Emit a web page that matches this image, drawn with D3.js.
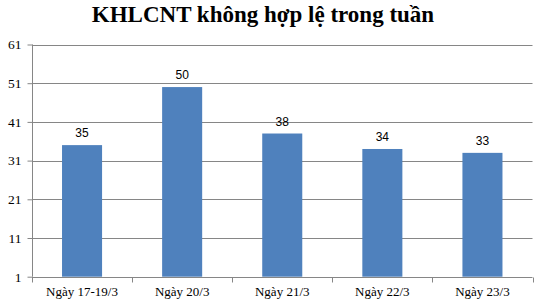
<!DOCTYPE html>
<html><head><meta charset="utf-8">
<script src="https://cdn.jsdelivr.net/npm/d3@7"></script>
<style>body{margin:0;background:#fff}svg{display:block}</style>
</head><body>
<svg id="c" width="542" height="306"></svg>
<script>
const title = "KHLCNT không hợp lệ trong tuần";
const categories = ["Ngày 17-19/3", "Ngày 20/3", "Ngày 21/3", "Ngày 22/3", "Ngày 23/3"];
const values = [35, 50, 38, 34, 33];
const yTicks = [1, 11, 21, 31, 41, 51, 61];

(function () {
const svg = d3.select("#c");
const pLeft = 32, pRight = 532.5, pTop = 44.5, pBottom = 276.7;
const x = d3.scaleBand().domain(categories).range([pLeft, pRight]).paddingInner(0.6).paddingOuter(0.3);
const y = d3.scaleLinear().domain([1, 61]).range([pBottom, pTop]);

svg.append("text").attr("x", 263).attr("y", 22).attr("text-anchor", "middle")
  .attr("font-family", "'Liberation Serif','Times New Roman',serif").attr("font-weight", "bold")
  .attr("font-size", 23).attr("fill", "#000").text(title);

// gridlines
svg.append("g").selectAll("line").data(yTicks.filter(d => d !== 1)).join("line")
  .attr("x1", pLeft).attr("x2", pRight).attr("y1", d => Math.round(y(d)) + 0.5).attr("y2", d => Math.round(y(d)) + 0.5)
  .attr("stroke", "#868686").attr("stroke-width", 1);

// bars
svg.append("g").selectAll("rect").data(values).join("rect")
  .attr("x", (d, i) => x(categories[i])).attr("width", x.bandwidth())
  .attr("y", d => y(d)).attr("height", d => y(1) - y(d)).attr("fill", "#4F81BD");

// value labels
svg.append("g").selectAll("text").data(values).join("text")
  .attr("x", (d, i) => x(categories[i]) + x.bandwidth() / 2).attr("y", d => y(d) - 8)
  .attr("text-anchor", "middle").attr("font-family", "'Liberation Sans',Arial,sans-serif")
  .attr("font-size", 12).attr("fill", "#000").text(d => d);

// y axis
const yAxis = d3.axisLeft(y).tickValues(yTicks).tickSize(5).tickPadding(6).tickFormat(d3.format("d"));
const gy = svg.append("g").attr("transform", `translate(${pLeft + 0.5},0)`).call(yAxis);
gy.select(".domain").attr("stroke", "#868686").attr("d", `M0,${pTop}V${pBottom}`);
gy.selectAll(".tick line").attr("stroke", "#868686");
gy.selectAll(".tick text").attr("font-family", "'Liberation Serif','Times New Roman',serif").attr("font-size", 13.5).attr("fill", "#000");

// x axis
const gx = svg.append("g").attr("transform", `translate(0,${Math.round(pBottom) + 0.5})`);
gx.append("line").attr("x1", pLeft).attr("x2", pRight).attr("stroke", "#868686");
const bounds = categories.map(c => x(c) - x.step() * x.paddingInner() / 2 + x.step()).concat([pLeft]);
gx.selectAll("line.t").data(bounds).join("line").attr("class", "t")
  .attr("x1", d => Math.round(d) + 0.5).attr("x2", d => Math.round(d) + 0.5).attr("y1", 0).attr("y2", 5).attr("stroke", "#868686");
gx.selectAll("text").data(categories).join("text")
  .attr("x", d => x(d) + x.bandwidth() / 2).attr("y", 18)
  .attr("text-anchor", "middle").attr("font-family", "'Liberation Serif','Times New Roman',serif")
  .attr("font-size", 13).attr("fill", "#000").text(d => d);
})();
</script>
</body></html>
